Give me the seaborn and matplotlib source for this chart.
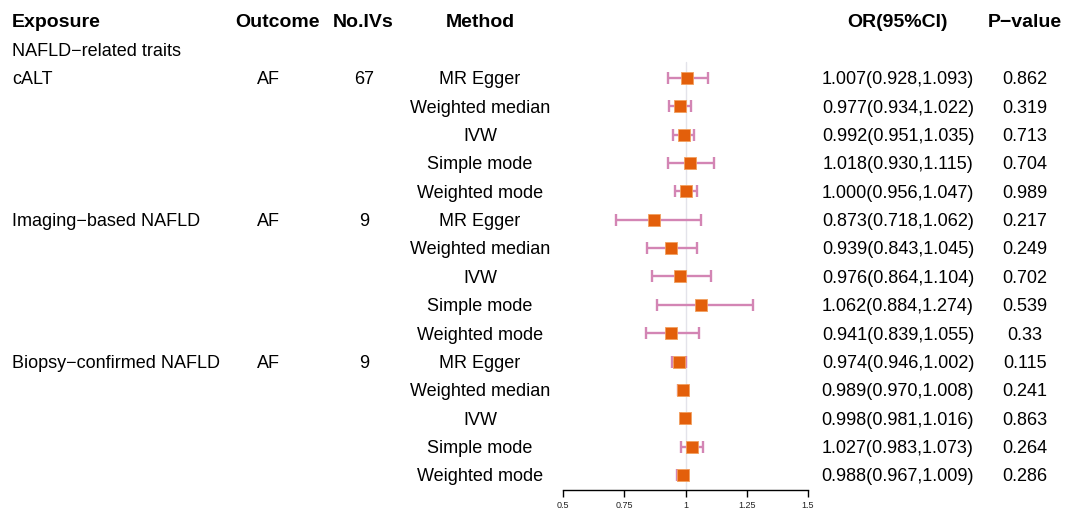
import matplotlib
matplotlib.use("Agg")
import matplotlib.pyplot as plt
import matplotlib.transforms as mtransforms
import seaborn as sns
import pandas as pd
import numpy as np

# ---------------- data ----------------
exposures = ["cALT", "Imaging\u2212based NAFLD", "Biopsy\u2212confirmed NAFLD"]
outcomes = ["AF", "AF", "AF"]
n_ivs = ["67", "9", "9"]
methods = ["MR Egger", "Weighted median", "IVW", "Simple mode", "Weighted mode"]
or_vals = [1.007, 0.977, 0.992, 1.018, 1.000,
           0.873, 0.939, 0.976, 1.062, 0.941,
           0.974, 0.989, 0.998, 1.027, 0.988]
lo_vals = [0.928, 0.934, 0.951, 0.930, 0.956,
           0.718, 0.843, 0.864, 0.884, 0.839,
           0.946, 0.970, 0.981, 0.983, 0.967]
hi_vals = [1.093, 1.022, 1.035, 1.115, 1.047,
           1.062, 1.045, 1.104, 1.274, 1.055,
           1.002, 1.008, 1.016, 1.073, 1.009]
p_vals = ["0.862", "0.319", "0.713", "0.704", "0.989",
          "0.217", "0.249", "0.702", "0.539", "0.33",
          "0.115", "0.241", "0.863", "0.264", "0.286"]
x_ticks = [0.5, 0.75, 1, 1.25, 1.5]
x_tick_labels = ["0.5", "0.75", "1", "1.25", "1.5"]
group_label = "NAFLD\u2212related traits"
headers = ["Exposure", "Outcome", "No.IVs", "Method", "OR(95%CI)", "P\u2212value"]

# ---------------- layout ----------------
W, H = 1067, 513
sns.set_style("white")
plt.rcParams['font.family'] = ['Liberation Sans', 'DejaVu Sans']

fig = plt.figure(figsize=(W / 100, H / 100), dpi=100)
row0_px, row_h = 21.0, 28.375
axis_px = 490.0
ax_left, ax_right = 563.0, 808.0
ax = fig.add_axes([ax_left / W, 1 - axis_px / H, (ax_right - ax_left) / W, axis_px / H])
ax.set_xlim(0.5, 1.5)
ax.set_ylim((axis_px - row0_px) / row_h, -row0_px / row_h)

rows = np.arange(15) + 2
df = pd.DataFrame({
    "row": rows,
    "or": or_vals,
    "lo": lo_vals,
    "hi": hi_vals,
    "method": methods * 3,
})

# reference line
ax.plot([1, 1], [1.45, (axis_px - row0_px) / row_h], color="#E3E3EA", lw=1.0, zorder=0)

# CIs
ax.errorbar(df["or"], df["row"],
            xerr=[df["or"] - df["lo"], df["hi"] - df["or"]],
            fmt="none", ecolor="#D385B4", elinewidth=1.7, capsize=4,
            capthick=1.7, zorder=2)
sns.scatterplot(data=df, x="or", y="row", marker="s", s=80, color="#E35F0B",
                edgecolor="#F2A060", linewidth=0.6, ax=ax, zorder=3, legend=False)

ax.set_xlabel("")
ax.set_ylabel("")
ax.set_yticks([])
ax.set_xticks(x_ticks)
ax.set_xticklabels(x_tick_labels, fontsize=6.5, color="#222222")
for s in ["top", "left", "right"]:
    ax.spines[s].set_visible(False)
ax.spines["bottom"].set_color("black")
ax.spines["bottom"].set_linewidth(1.0)
ax.tick_params(axis="x", bottom=True, direction="out", length=5, width=1,
               color="black", pad=3)
ax.patch.set_alpha(0)

# ---------------- text table ----------------
trans = mtransforms.blended_transform_factory(fig.transFigure, ax.transData)
fs = 13
dy = 0.07

def put(xpx, row, s, ha="center", bold=False, size=fs):
    ax.text(xpx / W, row + dy, s, transform=trans, ha=ha, va="center",
            fontsize=size, fontweight="bold" if bold else "normal",
            color="black", clip_on=False)

hfs = 14
put(12, 0, headers[0], ha="left", bold=True, size=hfs)
put(278, 0, headers[1], bold=True, size=hfs)
put(363, 0, headers[2], bold=True, size=hfs)
put(480, 0, headers[3], bold=True, size=hfs)
put(898, 0, headers[4], bold=True, size=hfs)
put(1025, 0, headers[5], bold=True, size=hfs)

put(12, 1, group_label, ha="left")

for g in range(3):
    r = 2 + g * 5
    put(12, r, exposures[g], ha="left")
    put(268, r, outcomes[g])
    put(364, r, n_ivs[g])

for i in range(15):
    r = 2 + i
    put(480, r, methods[i % 5])
    put(898, r, f"{or_vals[i]:.3f}({lo_vals[i]:.3f},{hi_vals[i]:.3f})")
    put(1025, r, p_vals[i])

fig.savefig("out.png", dpi=100, facecolor="white")
